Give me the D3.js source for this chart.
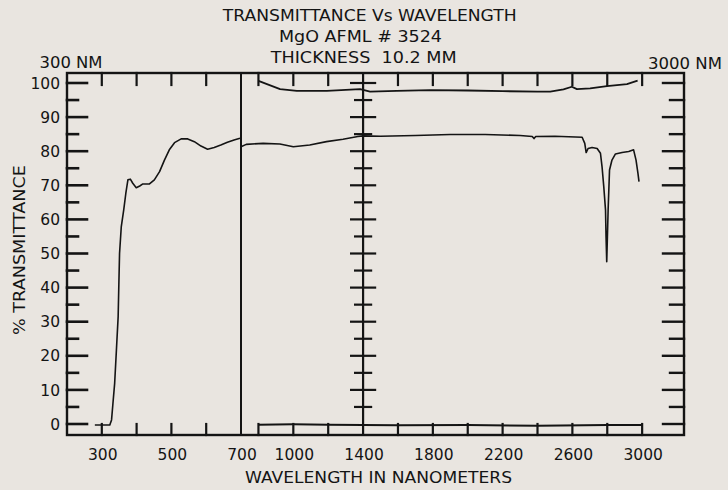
<!DOCTYPE html>
<html>
<head>
<meta charset="utf-8">
<script src="https://cdn.jsdelivr.net/npm/d3@7"></script>
<style>
  html, body { margin: 0; padding: 0; background: #e9e5e0; }
  svg { display: block; }
  text { font-family: "DejaVu Sans", sans-serif; fill: #141414; }
</style>
</head>
<body>
<script>
// ---------- data ----------
const titleLines = ["TRANSMITTANCE Vs WAVELENGTH", "MgO AFML # 3524", "THICKNESS  10.2 MM"];
const yTickValues = [0, 10, 20, 30, 40, 50, 60, 70, 80, 90, 100];
const xTickLabels = [300, 500, 700, 1000, 1400, 1800, 2200, 2600, 3000];
const xTickMarks = [300, 400, 500, 600, 800, 1000, 1200, 1600, 1800, 2000, 2200, 2400, 2600, 2800, 3000];

// 300-700 nm section
const uvWavelength = [280, 300, 323, 328, 332, 337, 342, 347, 349, 351, 356, 363, 369, 375, 382, 389, 399, 409, 418, 437, 451, 466, 480, 494, 509, 528, 547, 566, 585, 604, 623, 642, 661, 680, 697];
const uvTransmittance = [-0.3, -0.3, -0.3, 1.2, 6, 12, 21.7, 31.5, 41, 50, 57.9, 62.8, 67.6, 71.6, 71.8, 70.6, 69.3, 69.8, 70.4, 70.4, 71.6, 74, 77.4, 80.4, 82.5, 83.6, 83.6, 82.8, 81.5, 80.6, 81.1, 81.8, 82.6, 83.3, 83.8];

// 700-3000 nm section
const irWavelength = [700, 730, 827, 923, 1000, 1094, 1190, 1285, 1370, 1400, 1500, 1700, 1900, 2100, 2300, 2370, 2380, 2390, 2500, 2656, 2671, 2679, 2690, 2713, 2742, 2761, 2770, 2780, 2790, 2793, 2797, 2805, 2813, 2827, 2847, 2885, 2923, 2951, 2965, 2976, 2982];
const irTransmittance = [81.3, 82.0, 82.3, 82.1, 81.3, 81.8, 82.8, 83.5, 84.3, 84.5, 84.4, 84.6, 84.9, 84.9, 84.6, 84.3, 83.7, 84.3, 84.4, 84.1, 82.3, 79.6, 80.8, 81.1, 80.8, 79.4, 75.5, 69.6, 62.8, 54.9, 47.6, 62.8, 74.5, 77.4, 79.2, 79.6, 79.9, 80.4, 77.4, 73.5, 71.1];

// 100 % reference trace
const refTopWavelength = [800, 924, 1020, 1192, 1383, 1440, 1593, 1784, 2000, 2200, 2400, 2473, 2549, 2597, 2626, 2702, 2798, 2913, 2974];
const refTopValue = [100.6, 98.2, 97.7, 97.7, 98.2, 97.5, 97.7, 97.9, 97.8, 97.6, 97.5, 97.5, 98.1, 98.9, 98.2, 98.4, 99.1, 99.7, 100.7];

// 0 % reference trace
const refBottomWavelength = [800, 1000, 1200, 1400, 1600, 2000, 2400, 2800, 3000];
const refBottomValue = [-0.2, -0.1, -0.2, -0.3, -0.4, -0.3, -0.5, -0.3, -0.3];

// ---------- layout ----------
const W = 728, H = 490;
const L = 67, R = 684, T = 73, B = 435;
const ink = "#141414";

const svg = d3.select("body").append("svg").attr("width", W).attr("height", H);
svg.append("rect").attr("width", W).attr("height", H).attr("fill", "#e9e5e0");

const x = d3.scaleLinear().domain([200, 700, 3240]).range([L, 241, R]);
const y = d3.scaleLinear().domain([0, 100]).range([424, 83]);

// Titles
const titleY = [20.7, 41.7, 63.3];
const titleW = [294, 163, 186];
const titleX = [222.7, 279, 270.7];
titleLines.forEach((t, i) => {
  svg.append("text").attr("x", titleX[i]).attr("y", titleY[i])
    .attr("font-size", 15.5).attr("textLength", titleW[i]).attr("lengthAdjust", "spacingAndGlyphs")
    .style("white-space", "pre").text(t);
});
svg.append("text").attr("x", 39.5).attr("y", 67.5).attr("font-size", 15.5)
  .attr("textLength", 63).attr("lengthAdjust", "spacingAndGlyphs").text("300 NM");
svg.append("text").attr("x", 648).attr("y", 68.5).attr("font-size", 15.5)
  .attr("textLength", 74).attr("lengthAdjust", "spacingAndGlyphs").text("3000 NM");

// Axis labels
svg.append("text").attr("transform", "translate(25,335) rotate(-90)")
  .attr("font-size", 15.5).attr("textLength", 170).attr("lengthAdjust", "spacingAndGlyphs")
  .text("% TRANSMITTANCE");
svg.append("text").attr("x", 245).attr("y", 482.7).attr("font-size", 15.5)
  .attr("textLength", 267).attr("lengthAdjust", "spacingAndGlyphs")
  .text("WAVELENGTH IN NANOMETERS");

const g = svg.append("g").attr("stroke", ink).attr("fill", "none").attr("stroke-linecap", "square");

// Frame
g.append("rect").attr("x", L).attr("y", T).attr("width", R - L).attr("height", B - T).attr("stroke-width", 2.4);

// Left axis ticks (major every 10, minor every 5)
const allY = d3.range(0, 101, 5);
allY.forEach(v => {
  const major = v % 10 === 0;
  g.append("line").attr("x1", L).attr("x2", L + (major ? 20 : 11))
    .attr("y1", y(v)).attr("y2", y(v)).attr("stroke-width", 2.6);
  g.append("line").attr("x1", R).attr("x2", R - (major ? 21 : 14))
    .attr("y1", y(v)).attr("y2", y(v)).attr("stroke-width", 2.4);
});

// Section dividers
g.append("line").attr("x1", x(700)).attr("x2", x(700)).attr("y1", T).attr("y2", B).attr("stroke-width", 2);
g.append("line").attr("x1", x(1400)).attr("x2", x(1400)).attr("y1", T).attr("y2", B).attr("stroke-width", 2.2);
d3.range(5, 101, 5).forEach(v => {
  const major = v % 10 === 0;
  const h = major ? 12 : 8;
  g.append("line").attr("x1", x(1400) - h).attr("x2", x(1400) + h)
    .attr("y1", y(v)).attr("y2", y(v)).attr("stroke-width", 2.2);
});

// Top and bottom wavelength ticks
xTickMarks.forEach(w => {
  g.append("line").attr("x1", x(w)).attr("x2", x(w)).attr("y1", T).attr("y2", T + 12).attr("stroke-width", 2.2);
  g.append("line").attr("x1", x(w)).attr("x2", x(w)).attr("y1", B).attr("y2", B - 11).attr("stroke-width", 2.2);
});

// Tick labels
const lab = svg.append("g");
yTickValues.forEach(v => {
  lab.append("text").attr("x", 60).attr("y", y(v) + 5.6).attr("text-anchor", "end")
    .attr("font-size", 15.5).text(v);
});
xTickLabels.forEach(w => {
  lab.append("text").attr("x", x(w) + 1).attr("y", 460).attr("text-anchor", "middle")
    .attr("font-size", 15.5).text(w);
});

// Data curves
const line = d3.line().x(d => x(d[0])).y(d => y(d[1])).curve(d3.curveMonotoneX);
const lineLin = d3.line().x(d => x(d[0])).y(d => y(d[1]));
const curve = svg.append("g").attr("fill", "none").attr("stroke", ink).attr("stroke-linejoin", "round");

curve.append("path").attr("d", lineLin(uvWavelength.map((w, i) => [w, uvTransmittance[i]])))
  .attr("stroke-width", 1.6);
curve.append("path").attr("d", lineLin(irWavelength.map((w, i) => [w, irTransmittance[i]])))
  .attr("stroke-width", 1.6);
curve.append("path").attr("d", lineLin(refTopWavelength.map((w, i) => [w, refTopValue[i]])))
  .attr("stroke-width", 1.8);
curve.append("path").attr("d", lineLin(refBottomWavelength.map((w, i) => [w, refBottomValue[i]])))
  .attr("stroke-width", 2);
</script>
</body>
</html>
